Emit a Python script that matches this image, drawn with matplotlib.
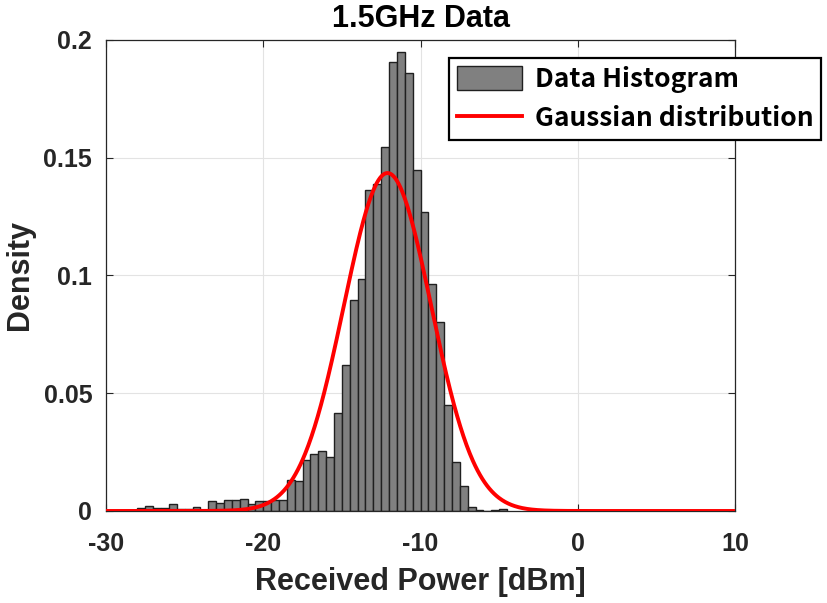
import numpy as np
import matplotlib
matplotlib.use('Agg')
import matplotlib.pyplot as plt

# histogram data (density per 0.5 dB bin)
bin_width = 0.5
bin_left = np.arange(-28.0, -4.75, bin_width)
density = [0.0014, 0.0020, 0.0011, 0.0011, 0.0028, 0.0010, 0.0010, 0.0015, 0.0003, 0.0042,
           0.0034, 0.0048, 0.0045, 0.0051, 0.0031, 0.0042, 0.0042, 0.0045, 0.0045, 0.0133,
           0.0127, 0.0218, 0.0241, 0.0255, 0.0229, 0.0416, 0.0620, 0.0898, 0.0986, 0.1363,
           0.1387, 0.1544, 0.1907, 0.1950, 0.1858, 0.1448, 0.1269, 0.0963, 0.0802, 0.0450,
           0.0207, 0.0105, 0.0017, 0.0003, 0.0002, 0.0003, 0.0010]

# fitted gaussian
mu = -12.1
sigma = 2.78

xticks = [-30, -20, -10, 0, 10]
yticks = [0, 0.05, 0.1, 0.15, 0.2]
yticklabels = ['0', '0.05', '0.1', '0.15', '0.2']

plt.rcParams['font.family'] = ['Liberation Sans', 'DejaVu Sans']
plt.rcParams['font.weight'] = 'bold'
plt.rcParams['axes.unicode_minus'] = False

fig = plt.figure(figsize=(8.27, 6.03), dpi=100)
ax = fig.add_axes([0.1282, 0.1526, 0.7606, 0.7811])

bars = ax.bar(bin_left, density, width=bin_width, align='edge', color='#808080',
              edgecolor='#202020', linewidth=1.0, label='Data Histogram', zorder=2)

xg = np.linspace(-30, 10, 800)
pdf = np.exp(-0.5 * ((xg - mu) / sigma) ** 2) / (sigma * np.sqrt(2 * np.pi))
line, = ax.plot(xg, pdf, color='red', linewidth=2.8, label='Gaussian distribution', zorder=3)

ax.set_xlim(-30, 10)
ax.set_ylim(0, 0.2)
ax.set_xticks(xticks)
ax.set_yticks(yticks)
ax.set_yticklabels(yticklabels)
ax.tick_params(direction='in', top=True, right=True, labelsize=18, length=5,
               width=0.8, colors='#262626')
ax.tick_params(axis='x', pad=15)
ax.tick_params(axis='y', pad=10)
for lab in ax.get_xticklabels() + ax.get_yticklabels():
    lab.set_fontweight('bold')
ax.grid(True, color='#e3e3e3', linewidth=0.8, zorder=0)
ax.set_axisbelow(True)
for s in ax.spines.values():
    s.set_color('#262626')
    s.set_linewidth(0.9)

ax.set_title('1.5GHz Data', fontsize=22, fontweight='bold', pad=9)
ax.set_xlabel('Received Power [dBm]', fontsize=22, fontweight='bold', color='#262626', labelpad=8)
ax.set_ylabel('Density', fontsize=22, fontweight='bold', color='#262626', labelpad=6)

leg = ax.legend([bars, line], ['Data Histogram', 'Gaussian distribution'],
                loc='upper left', bbox_to_anchor=(0.5453, 0.9618), borderaxespad=0,
                prop={'family': ['Noto Sans CJK KR', 'DejaVu Sans'], 'weight': 'bold', 'size': 19},
                frameon=True, fancybox=False, edgecolor='black', framealpha=1,
                handlelength=2.45, handleheight=1.05, handletextpad=0.5, labelspacing=0.45,
                borderpad=0.3)
leg.get_frame().set_linewidth(1.6)
leg.set_zorder(5)

fig.savefig('out.png', dpi=100)
